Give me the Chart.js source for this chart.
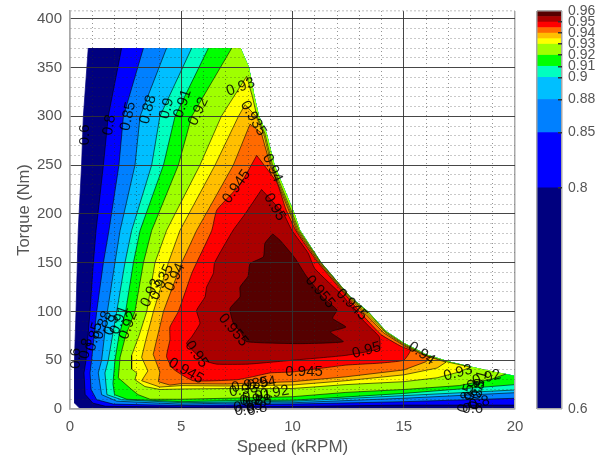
<!DOCTYPE html>
<html>
<head>
<meta charset="utf-8">
<title>Efficiency map</title>
<script src="https://cdn.jsdelivr.net/npm/chart.js@4"></script>
<style>
    html, body { margin: 0; padding: 0; background: #fff; }
    canvas { position: absolute; left: 0; top: 0; filter: blur(0.5px); }
</style>
</head>
<body>
<canvas id="mapChart" width="599" height="458"></canvas>
<canvas id="barChart" width="599" height="458"></canvas>
<script>
// Contour levels. Each edge is [speed kRPM, torque Nm]
const levels = [0.6, 0.8, 0.85, 0.88, 0.9, 0.91, 0.92, 0.93, 0.935, 0.94, 0.945, 0.95, 0.955];
const levelTop = 0.96;
const barTicks = [0.6, 0.8, 0.85, 0.88, 0.9, 0.91, 0.92, 0.93, 0.94, 0.95, 0.96];

// Torque limit of the machine, from the high speed end back up to the top
const envelope = [[20, 34], [19, 38.5], [18, 43.5], [17, 49], [16, 56], [15, 68], [14.2, 80], [13.4, 100], [12.6, 115], [11.3, 150], [10.34, 183.6], [10.1, 200], [9.2, 250], [8.84, 283], [8.5, 300], [8.3, 320], [8.05, 350], [7.67, 370]];

const edge60 = [[0.82, 370], [0.6, 300], [0.52, 250], [0.37, 183], [0.33, 150], [0.27, 100], [0.2, 50], [0.2, 20], [0.22, 6], [0.45, 0.4], [20, 0.4]];
const edge80 = [[2.32, 370], [1.72, 300], [1.5, 250], [1.17, 183], [1.05, 150], [0.9, 100], [0.72, 50], [0.63, 37], [0.68, 15], [1.03, 6], [1.6, 2.8], [5, 2], [7, 2.4], [10, 2.6], [15, 4], [20, 4]];
const edge85 = [[3.3, 370], [2.4, 300], [2.2, 250], [1.75, 183], [1.5, 150], [1.2, 100], [0.97, 50], [0.9, 37], [0.95, 20], [1.2, 9.5], [1.95, 5], [5, 3.5], [7, 4], [10, 5], [15, 7.5], [20, 11]];
const edge88 = [[4.34, 370], [3.15, 300], [2.92, 250], [2.25, 183], [2.02, 150], [1.68, 100], [1.42, 50], [1.27, 37], [1.42, 14.7], [2.1, 8], [5, 5], [7, 6], [10, 6.4], [15, 11], [20, 16.7]];
const edge90 = [[5.47, 370], [4.04, 300], [3.67, 250], [2.77, 183], [2.47, 150], [2.1, 100], [1.72, 50], [1.57, 37], [1.66, 14.7], [2.32, 9.5], [5, 6.5], [7, 7], [10, 8], [15, 13.7], [20, 19.5]];
const edge91 = [[6.22, 370], [4.72, 300], [4.2, 250], [3.15, 183], [2.85, 150], [2.5, 100], [2.2, 75], [2.02, 50], [1.93, 26], [2, 14.7], [2.55, 10], [5, 7.5], [7, 8.5], [10, 9], [15, 16], [20, 25]];
const edge92 = [[7.27, 370], [5.47, 300], [4.87, 250], [3.67, 183], [3.3, 150], [2.92, 100], [2.5, 75], [2.25, 53], [2.17, 32], [2.77, 20], [3.06, 14.7], [3.6, 10], [5, 10], [7, 11], [10, 12.6], [12.4, 17], [15, 20], [17.5, 24], [19, 31], [19.6, 36]];

// These close on themselves, just inside the torque limit
const edge93 = [[7.94, 341], [6.8, 300], [5.84, 250], [4.34, 183], [3.82, 150], [3.45, 100], [3.1, 75], [2.77, 55], [2.77, 41], [3, 37], [2.92, 30], [3.37, 23], [4.04, 20], [5, 20.5], [7, 21], [10, 21], [12.4, 25], [15, 28], [16.5, 32], [17.5, 38], [18, 43], [17, 48], [16, 55], [15, 67], [14.2, 79], [13.4, 99], [12.58, 115], [11.28, 150], [10.3, 183], [10, 200], [9.1, 250], [8.75, 283], [8.4, 300], [8.2, 320]];
const edge935 = [[7.87, 312], [7.57, 300], [6.52, 250], [4.94, 183], [4.42, 150], [3.75, 100], [3.4, 70], [3.22, 53], [3.5, 39], [3.22, 29], [4.04, 22.5], [5, 24], [7, 23.6], [10, 24.6], [12.4, 29], [15, 35], [16.5, 42], [16.9, 48], [16, 54.5], [15, 66], [14.2, 78], [13.35, 98], [12.55, 115], [11.25, 150], [10.25, 183], [9.95, 200], [9.05, 250], [8.7, 283], [8.36, 300]];
const edge94 = [[8.09, 292], [7.34, 250], [5.69, 183], [5.02, 150], [4.2, 100], [3.74, 56], [4.04, 38], [3.97, 28], [4.49, 24.5], [5, 26], [7, 25.6], [10, 28], [12.4, 33], [15, 40], [16, 48.5], [16.2, 53], [15.8, 56], [15, 65], [14.1, 78], [13.3, 97], [12.5, 115], [11.2, 150], [10.2, 183], [9.9, 200], [9, 250], [8.6, 283]];
const edge945 = [[8.39, 260], [7.64, 230], [6.6, 204], [6.37, 183], [5.69, 150], [5.47, 139], [4.87, 100], [4.49, 84], [4.49, 71], [4.34, 53.6], [4.64, 41], [5.54, 29], [7.5, 30], [8.2, 33], [9, 37], [10, 38], [12.4, 45], [13.9, 47], [15, 50], [15.3, 60], [14.9, 64], [14, 76], [13.2, 95], [12.45, 115], [11.15, 150], [10.15, 183], [9.7, 205], [9.3, 232]];
const edge95 = [[8.61, 225], [7.87, 200], [7.34, 183.6], [6.5, 150], [6.44, 139], [6.14, 125], [6.07, 115], [5.69, 101], [5.84, 88], [5.47, 74], [5.24, 67], [6, 50], [6.6, 46], [8, 46], [10, 50], [12.4, 55], [13.9, 62], [13.9, 74], [13.47, 84], [12.8, 100], [12.3, 115], [11, 144], [10.7, 160], [9.96, 183.6], [9.6, 200]];
const edge955 = [[9.11, 179.5], [8.76, 170], [8.69, 156], [8.09, 149], [8, 136], [7.64, 125], [7.64, 115], [7.19, 103], [7.34, 88], [7.7, 78], [7.94, 69], [10.3, 67], [12.28, 69], [11.7, 79], [12.4, 84], [11.8, 93], [12, 101.5], [11.4, 113.5], [11, 125.5], [10.6, 137], [10.1, 155], [9.44, 173]];

// Contour labels as they sit on the map
const labelTexts = ['0.6', '0.8', '0.85', '0.88', '0.9', '0.91', '0.92', '0.93', '0.935', '0.94', '0.945', '0.95',
    '0.6', '0.8', '0.85', '0.88', '0.9', '0.91', '0.92', '0.93', '0.935', '0.94',
    '0.955', '0.95', '0.945', '0.945', '0.95', '0.955', '0.945', '0.94', '0.93', '0.92',
    '0.92', '0.94', '0.935', '0.93', '0.91', '0.9', '0.88', '0.85', '0.8', '0.6',
    '0.91', '0.9', '0.88', '0.85', '0.8', '0.6'];
const labelSpeeds = [0.67, 1.77, 2.61, 3.51, 4.35, 5.06, 5.77, 7.67, 8.24, 9.1, 7.49, 9.2,
    0.27, 0.72, 1.09, 1.47, 1.87, 2.22, 2.62, 3.64, 4.13, 4.72,
    7.34, 5.69, 5.21, 10.52, 13.33, 11.24, 12.66, 15.8, 17.44, 18.73,
    9.2, 8.61, 8.09, 7.8, 8.39, 8.09, 8.4, 8, 8.4, 7.87,
    18.4, 18.05, 18.3, 17.8, 18.4, 18.1];
const labelTorques = [281, 291, 300, 307, 308, 313, 305, 330, 298, 247, 228, 207,
    52, 62, 74, 86, 86, 91, 86, 119, 130, 135,
    81, 56, 39, 38, 60, 120, 107, 57, 37, 32,
    16.7, 26, 24.6, 19.5, 12.6, 9, 8, 2.4, 0.6, -1.7,
    24.6, 19.5, 14, 11, 6, 0];
const labelAngles = [-90, -80, -78, -75, -75, -72, -65, -20, 60, 65, -55, 60,
    -90, -80, -75, -70, -70, -70, -70, -65, -65, -65,
    50, 55, 30, 0, -15, 50, 45, 35, -15, -15,
    -10, -10, -10, -10, -5, -5, -5, -5, -5, 0,
    -75, -75, -75, -75, -15, 0];

const levelColors = ['#00007f', '#0000ff', '#0080ff', '#00bfff', '#00ffc0', '#00ff00', '#9fff00', '#ffff00', '#ffbf00', '#ff6a00', '#ff0000', '#aa0000', '#550000'];

const frameColor = '#a8a8a8';
const majorColor = 'rgba(50, 50, 50, 0.9)';
const minorColor = 'rgba(40, 40, 40, 0.5)';
const textColor = '#555';

Chart.defaults.font.family = "'Liberation Sans', Arial, sans-serif";

const regions = [
    edge60.concat(envelope),
    edge80.concat(envelope),
    edge85.concat(envelope),
    edge88.concat(envelope),
    edge90.concat(envelope),
    edge91.concat(envelope),
    edge92.concat(envelope.slice(2)),
    edge93, edge935, edge94, edge945, edge95, edge955
];
// contour line of each level: the torque limit itself carries no line
const contourLines = [edge60, edge80, edge85, edge88, edge90, edge91, edge92,
    edge93, edge935, edge94, edge945, edge95, edge955];

const toPoints = (pts) => pts.map(([x, y]) => ({ x, y }));
// close the ring so fill:'shape' comes back to the start
const toRing = (pts) => toPoints(pts.concat([pts[0]]));

const isFrame = (value, lo, hi) => value === lo || value === hi;

const gridFor = (lo, hi, step) => ({
    z: 1,
    drawTicks: false,
    color: (ctx) => {
        if (isFrame(ctx.tick.value, lo, hi)) return frameColor;
        return ctx.tick.value % step === 0 ? majorColor : minorColor;
    },
    lineWidth: (ctx) => (isFrame(ctx.tick.value, lo, hi) ? 1.5 : 1)
});

const borderFor = (step) => ({
    z: 1,
    color: frameColor,
    width: 1.5,
    dash: (ctx) => (ctx.tick && ctx.tick.value % step !== 0 ? [1, 3] : [])
});

// Rotated level labels, placed through the chart's own scales
const contourLabelPlugin = {
    id: 'contourLabels',
    afterDraw(chart) {
        const { ctx, scales } = chart;
        ctx.save();
        ctx.font = "15px 'Liberation Sans', Arial, sans-serif";
        ctx.fillStyle = 'rgba(0, 0, 0, 0.85)';
        ctx.textAlign = 'center';
        ctx.textBaseline = 'middle';
        labelTexts.forEach((text, i) => {
            ctx.save();
            ctx.translate(scales.x.getPixelForValue(labelSpeeds[i]), scales.y.getPixelForValue(labelTorques[i]));
            ctx.rotate(labelAngles[i] * Math.PI / 180);
            ctx.fillText(text, 0, 0);
            ctx.restore();
        });
        ctx.restore();
    }
};

// Higher levels sit on top, so order counts down as the level goes up
const mapDatasets = [];
regions.forEach((pts, i) => {
    const depth = 2 * (regions.length - i);
    const smooth = i >= 10 ? 0.15 : 0;
    mapDatasets.push({
        label: 'region ' + levels[i],
        data: toRing(pts),
        showLine: true,
        fill: 'shape',
        tension: smooth,
        pointRadius: 0,
        borderWidth: 0,
        backgroundColor: levelColors[i],
        order: depth
    });
    const closed = i >= 7;
    mapDatasets.push({
        label: 'contour ' + levels[i],
        data: closed ? toRing(contourLines[i]) : toPoints(contourLines[i]),
        showLine: true,
        fill: false,
        tension: smooth,
        pointRadius: 0,
        borderWidth: 0.7,
        borderColor: i === 0 ? levelColors[0] : 'rgba(0, 0, 0, 0.85)',
        order: depth - 1
    });
});

new Chart(document.getElementById('mapChart'), {
    type: 'scatter',
    data: { datasets: mapDatasets },
    options: {
        responsive: false,
        animation: false,
        layout: { padding: { top: 11, right: 84 } },
        plugins: { legend: { display: false }, tooltip: { enabled: false } },
        scales: {
            x: {
                min: 0,
                max: 20,
                afterFit: (scale) => {
                    scale.height = 49;
                    scale.paddingLeft = 0;
                    scale.paddingRight = 0;
                },
                grid: gridFor(0, 20, 5),
                border: borderFor(5),
                ticks: {
                    stepSize: 1,
                    autoSkip: false,
                    maxRotation: 0,
                    padding: 9,
                    color: textColor,
                    font: { size: 15 },
                    callback: (value) => (value % 5 === 0 ? value : '')
                },
                title: {
                    display: true,
                    text: 'Speed (kRPM)',
                    color: textColor,
                    font: { size: 17 },
                    padding: { top: 0, bottom: 0 }
                }
            },
            y: {
                min: 0,
                max: 408,
                afterFit: (scale) => {
                    scale.width = 70;
                    scale.paddingTop = 0;
                    scale.paddingBottom = 0;
                },
                afterBuildTicks: (scale) => { scale.ticks.push({ value: 408 }); },
                grid: gridFor(0, 408, 50),
                border: borderFor(50),
                ticks: {
                    stepSize: 10,
                    includeBounds: false,
                    autoSkip: false,
                    padding: 8,
                    color: textColor,
                    font: { size: 15 },
                    callback: (value) => (value % 50 === 0 ? value : '')
                },
                title: {
                    display: true,
                    text: 'Torque (Nm)',
                    color: textColor,
                    font: { size: 16.5 },
                    padding: { top: 15, bottom: 0 }
                }
            }
        }
    },
    plugins: [contourLabelPlugin]
});

// Colour bar, one floating bar per band
const bandEnds = levels.slice(1).concat([levelTop]);

new Chart(document.getElementById('barChart'), {
    type: 'bar',
    data: {
        labels: ['level'],
        datasets: levels.map((lo, i) => ({
            label: String(lo),
            data: [[lo, bandEnds[i]]],
            backgroundColor: levelColors[i],
            borderWidth: 0,
            barPercentage: 1,
            categoryPercentage: 1,
            grouped: false
        }))
    },
    options: {
        responsive: false,
        animation: false,
        layout: { padding: { left: 537, top: 11, bottom: 49 } },
        plugins: { legend: { display: false }, tooltip: { enabled: false } },
        scales: {
            x: {
                afterFit: (scale) => { scale.height = 0; },
                ticks: { display: false },
                grid: { z: 1, drawTicks: false, color: frameColor, lineWidth: 1.5 },
                border: { display: false }
            },
            y: {
                position: 'right',
                min: 0.6,
                max: 0.96,
                afterFit: (scale) => {
                    scale.width = 37;
                    scale.paddingTop = 0;
                    scale.paddingBottom = 0;
                },
                afterBuildTicks: (scale) => { scale.ticks = barTicks.map((value) => ({ value })); },
                grid: {
                    z: 1,
                    tickLength: -4,
                    lineWidth: 1.5,
                    color: (ctx) => (ctx.tick.value === 0.6 || ctx.tick.value === 0.96 ? frameColor : 'transparent'),
                    tickColor: (ctx) => (ctx.tick.value === 0.6 || ctx.tick.value === 0.96 ? 'transparent' : '#333')
                },
                border: { display: false },
                ticks: {
                    padding: 10,
                    color: textColor,
                    font: { size: 14 },
                    autoSkip: false,
                    callback: (value) => String(value)
                }
            }
        }
    }
});
</script>
</body>
</html>
